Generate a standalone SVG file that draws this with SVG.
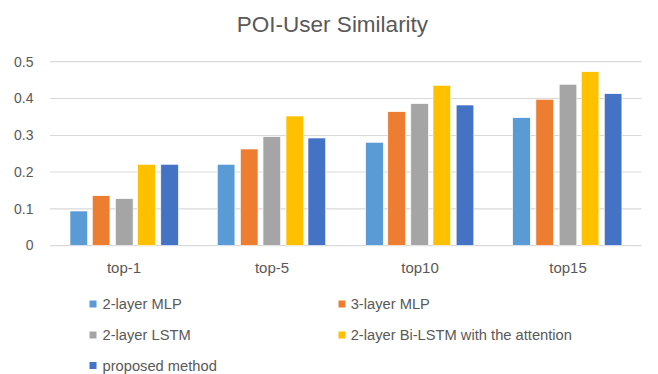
<svg xmlns="http://www.w3.org/2000/svg" width="658" height="374" viewBox="0 0 658 374">
  <style>
    text { font-family: "Liberation Sans", Arial, sans-serif; fill: #595959; }
    .title { font-size: 22.5px; }
    .ax { font-size: 14px; }
    .cat { font-size: 15px; }
    .lg { font-size: 14.7px; }
    .grid { stroke: #D9D9D9; stroke-width: 1.2; }
    .s1 { fill: #5B9BD5; }
    .s2 { fill: #ED7D31; }
    .s3 { fill: #A5A5A5; }
    .s4 { fill: #FFC000; }
    .s5 { fill: #4472C4; }
    rect.bar { stroke: #ffffff; stroke-width: 0.6; }
  </style>
  <rect x="0" y="0" width="658" height="374" fill="#ffffff"/>
  <text id="title" class="title" x="332.5" y="31.5" text-anchor="middle">POI-User Similarity</text>

  <g id="gridlines">
    <line class="grid" x1="50" y1="61.7" x2="641.5" y2="61.7"/>
    <line class="grid" x1="50" y1="98.5" x2="641.5" y2="98.5"/>
    <line class="grid" x1="50" y1="135.5" x2="641.5" y2="135.5"/>
    <line class="grid" x1="50" y1="172" x2="641.5" y2="172"/>
    <line class="grid" x1="50" y1="208.8" x2="641.5" y2="208.8"/>
    <line class="grid" x1="50" y1="245.6" x2="641.5" y2="245.6"/>
  </g>

  <g id="y-axis-labels" text-anchor="end">
    <text class="ax" x="33.5" y="66.5">0.5</text>
    <text class="ax" x="33.5" y="103.3">0.4</text>
    <text class="ax" x="33.5" y="140.3">0.3</text>
    <text class="ax" x="33.5" y="176.8">0.2</text>
    <text class="ax" x="33.5" y="213.6">0.1</text>
    <text class="ax" x="33.5" y="250.4">0</text>
  </g>

  <g id="series-2-layer-MLP" class="s1">
    <rect class="bar" x="70" y="211" width="17.6" height="34.5"/>
    <rect class="bar" x="217.3" y="164.3" width="17.6" height="81.2"/>
    <rect class="bar" x="365.7" y="142.3" width="17.6" height="103.2"/>
    <rect class="bar" x="512.7" y="117.7" width="17.6" height="127.8"/>
  </g>
  <g id="series-3-layer-MLP" class="s2">
    <rect class="bar" x="92.3" y="195.7" width="17.6" height="49.8"/>
    <rect class="bar" x="240.4" y="149" width="17.6" height="96.5"/>
    <rect class="bar" x="387.8" y="111.7" width="17.6" height="133.8"/>
    <rect class="bar" x="535.9" y="99.3" width="17.6" height="146.2"/>
  </g>
  <g id="series-2-layer-LSTM" class="s3">
    <rect class="bar" x="115.5" y="198.7" width="17.6" height="46.8"/>
    <rect class="bar" x="263" y="136.7" width="17.6" height="108.8"/>
    <rect class="bar" x="410.8" y="103.7" width="17.6" height="141.8"/>
    <rect class="bar" x="559.2" y="84.3" width="17.6" height="161.2"/>
  </g>
  <g id="series-2-layer-Bi-LSTM" class="s4">
    <rect class="bar" x="137.7" y="164.3" width="17.6" height="81.2"/>
    <rect class="bar" x="286" y="116" width="17.6" height="129.5"/>
    <rect class="bar" x="433" y="85.3" width="17.6" height="160.2"/>
    <rect class="bar" x="581.3" y="71.7" width="17.6" height="173.8"/>
  </g>
  <g id="series-proposed-method" class="s5">
    <rect class="bar" x="160.8" y="164.3" width="17.6" height="81.2"/>
    <rect class="bar" x="308" y="138" width="17.6" height="107.5"/>
    <rect class="bar" x="456.2" y="105" width="17.6" height="140.5"/>
    <rect class="bar" x="604.3" y="93.7" width="17.6" height="151.8"/>
  </g>

  <g id="x-axis-labels" text-anchor="middle">
    <text class="cat" x="124" y="273">top-1</text>
    <text class="cat" x="272" y="273">top-5</text>
    <text class="cat" x="420" y="273">top10</text>
    <text class="cat" x="568" y="273">top15</text>
  </g>

  <g id="legend">
    <g id="legend-2-layer-MLP">
      <rect class="s1" x="89.5" y="300.5" width="7" height="7"/>
      <text class="lg" x="102.5" y="309">2-layer MLP</text>
    </g>
    <g id="legend-3-layer-MLP">
      <rect class="s2" x="338.5" y="300.5" width="7" height="7"/>
      <text class="lg" x="350.7" y="309">3-layer MLP</text>
    </g>
    <g id="legend-2-layer-LSTM">
      <rect class="s3" x="89.5" y="331.5" width="7" height="7"/>
      <text class="lg" x="102.5" y="340">2-layer LSTM</text>
    </g>
    <g id="legend-2-layer-Bi-LSTM">
      <rect class="s4" x="338.5" y="331.5" width="7" height="7"/>
      <text class="lg" x="350.7" y="340">2-layer Bi-LSTM with the attention</text>
    </g>
    <g id="legend-proposed-method">
      <rect class="s5" x="89.5" y="362" width="7" height="7"/>
      <text class="lg" x="102.5" y="370.5">proposed method</text>
    </g>
  </g>
</svg>
